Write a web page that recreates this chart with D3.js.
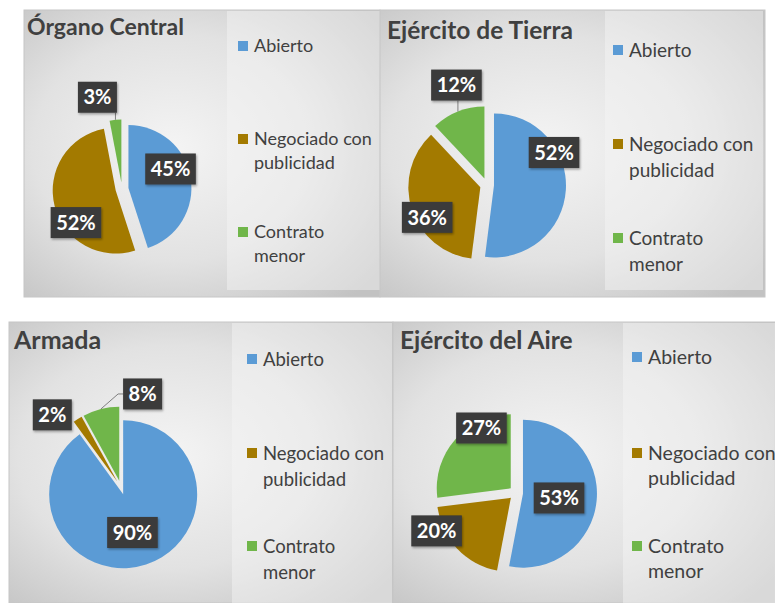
<!DOCTYPE html>
<html>
<head>
<meta charset="utf-8">
<script src="https://cdn.jsdelivr.net/npm/d3@7"></script>
<style>
  body { margin: 0; background: #fff; }
  svg { display: block; font-family: Lato, "Open Sans", sans-serif; }
</style>
</head>
<body>
<div id="chart"></div>
<script>
// values (percent)
const categories = ["Abierto", "Negociado con publicidad", "Contrato menor"];
const legendLines = [["Abierto"], ["Negociado con", "publicidad"], ["Contrato", "menor"]];
const titles = ["Órgano Central", "Ejército de Tierra", "Armada", "Ejército del Aire"];
const organoCentral = [45, 52, 3];
const ejercitoTierra = [52, 36, 12];
const armada = [90, 2, 8];
const ejercitoAire = [53, 20, 27];
const colors = ["#5b9bd5", "#a37a00", "#70b64a"];

// panel layout (px). labels = [angle in degrees from 12 o'clock, distance from centre]
const panels = [
    { values: organoCentral, x: 24, y: 10, w: 356, h: 287, cx: 98, cy: 179, r: 63, explode: 6.5,
      titleX: 3, titleY: 25, titleFont: 23, legX: 203, legW: 153, legH: 280, sqX: 214, rows: [36, 129, 222], lineGap: 24, legFont: 18,
      labels: [[67.6, 52.5], [233.9, 57], [345, 95]], leaders: [false, false, true] },
    { values: ejercitoTierra, x: 380, y: 10, w: 385, h: 287, cx: 107, cy: 175, r: 72, explode: 7,
      titleX: 7, titleY: 29, titleFont: 24.5, legX: 225, legW: 158, legH: 280, sqX: 233, rows: [40, 134, 228], lineGap: 26, legFont: 19,
      labels: [[64.1, 74.5], [241.6, 68], [343, 104.5]], leaders: [false, false, true] },
    { values: armada, x: 9, y: 322, w: 384, h: 281, cx: 112, cy: 165.5, r: 74, explode: 7,
      titleX: 5, titleY: 27, titleFont: 25, legX: 223, legW: 160, legH: 281, sqX: 238, rows: [37, 131, 224], lineGap: 26, legFont: 18.5,
      labels: [[165.7, 46.4], [316.6, 100], [13, 96]], leaders: [false, false, true] },
    { values: ejercitoAire, x: 393, y: 322, w: 382, h: 281, cx: 123, cy: 171, r: 74, explode: 7,
      titleX: 7, titleY: 27, titleFont: 24.5, legX: 230, legW: 152, legH: 281, sqX: 239, rows: [35, 131, 224], lineGap: 25, legFont: 19.5,
      labels: [[96.6, 43.3], [244.5, 88], [332, 73.6]], leaders: [false, false, false] }
];

const svg = d3.select("#chart").append("svg").attr("width", 775).attr("height", 603);

let defs = svg.append("defs");
let grad = defs.append("radialGradient").attr("id", "bg")
    .attr("cx", "42%").attr("cy", "48%").attr("r", "72%");
grad.append("stop").attr("offset", "0%").attr("stop-color", "#f4f4f4");
grad.append("stop").attr("offset", "55%").attr("stop-color", "#e2e2e2");
grad.append("stop").attr("offset", "100%").attr("stop-color", "#c2c2c2");

defs.append("filter").attr("id", "shadow").attr("x", "-20%").attr("y", "-20%").attr("width", "150%").attr("height", "150%")
    .append("feDropShadow").attr("dx", 1).attr("dy", 1.5).attr("stdDeviation", 1.2)
    .attr("flood-color", "#000").attr("flood-opacity", 0.35);

const pie = d3.pie().sort(null).value(d => d);
const rad = deg => deg * Math.PI / 180;

panels.forEach((p, k) => {
    let g = svg.append("g").attr("transform", `translate(${p.x},${p.y})`);

    // background
    g.append("rect").attr("width", p.w).attr("height", p.h)
        .attr("fill", "url(#bg)").attr("stroke", "#c6c6c6");
    g.append("rect").attr("x", p.legX).attr("y", 1).attr("width", p.legW).attr("height", p.legH - 1)
        .attr("fill", "#f6f6f6").attr("opacity", 0.45);

    // title
    g.append("text").attr("x", p.titleX).attr("y", p.titleY)
        .attr("font-size", p.titleFont).attr("font-weight", "bold").attr("fill", "#404040")
        .text(titles[k]);

    // pie
    let arc = d3.arc().innerRadius(0).outerRadius(p.r);
    let arcs = pie(p.values);
    let pg = g.append("g").attr("transform", `translate(${p.cx},${p.cy})`);

    pg.selectAll("path").data(arcs).join("path")
        .attr("d", arc)
        .attr("fill", (d, i) => colors[i])
        .attr("transform", d => {
            let a = (d.startAngle + d.endAngle) / 2;
            return `translate(${p.explode * Math.sin(a)},${-p.explode * Math.cos(a)})`;
        });

    // data labels
    arcs.forEach((d, i) => {
        let [deg, dist] = p.labels[i];
        let lx = dist * Math.sin(rad(deg)), ly = -dist * Math.cos(rad(deg));
        let lg = pg.append("g");
        let rect = lg.append("rect").attr("fill", "#3a3a3a").attr("filter", "url(#shadow)");
        let t = lg.append("text").attr("x", lx).attr("y", ly).attr("dy", "0.36em")
            .attr("text-anchor", "middle").attr("font-size", 20).attr("font-weight", "bold")
            .attr("fill", "#fff").text(d3.format(".0%")(d.value / 100));
        let tw = t.node().getComputedTextLength();
        let bw = tw + 11, bh = 31;
        let bx = lx - bw / 2, by = ly - bh / 2;
        rect.attr("x", bx).attr("y", by).attr("width", bw).attr("height", bh);

        if (p.leaders[i]) {
            let a = (d.startAngle + d.endAngle) / 2;
            let R = p.r + p.explode;
            let sx = R * Math.sin(a), sy = -R * Math.cos(a);
            let pts;
            if (sx >= bx && sx <= bx + bw) {
                pts = [[sx, sy], [sx, sy > by + bh ? by + bh : by]];
            } else {
                let ex = sx < bx ? bx : bx + bw;
                let side = sx < bx ? -5 : 5;
                pts = [[sx, sy], [ex + side, ly], [ex, ly]];
            }
            pg.insert("path", "g").attr("d", d3.line()(pts))
                .attr("fill", "none").attr("stroke", "#7f7f7f").attr("stroke-width", 1);
        }
    });

    // legend
    categories.forEach((c, i) => {
        let ry = p.rows[i];
        g.append("rect").attr("x", p.sqX).attr("y", ry - 5).attr("width", 10).attr("height", 10)
            .attr("fill", colors[i]);
        let t = g.append("text").attr("x", p.sqX + 16).attr("y", ry)
            .attr("font-size", p.legFont).attr("fill", "#404040");
        legendLines[i].forEach((line, j) => {
            t.append("tspan").attr("x", p.sqX + 16).attr("dy", j === 0 ? "0.36em" : p.lineGap).text(line);
        });
    });
});
</script>
</body>
</html>
